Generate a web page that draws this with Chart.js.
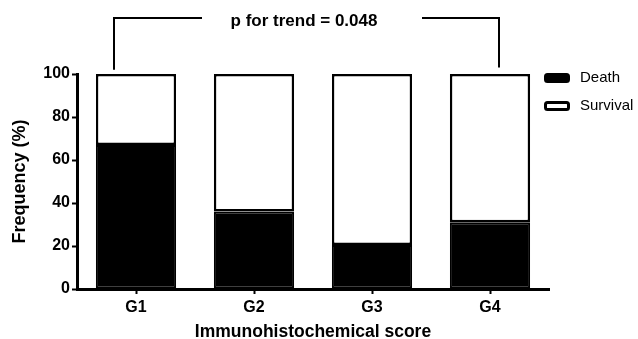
<!DOCTYPE html>
<html>
<head>
<meta charset="utf-8">
<script src="https://cdn.jsdelivr.net/npm/chart.js@4"></script>
<style>
    body { margin: 0; background: #fff; }
    canvas { display: block; }
</style>
</head>
<body>
<canvas id="chart" width="638" height="339"></canvas>
<script>
const groups = ['G1', 'G2', 'G3', 'G4'];
const deathPct = [67, 36, 20.5, 31];
const survivalPct = [33, 64, 79.5, 69];
const yTicks = [0, 20, 40, 60, 80, 100];
const trendText = 'p for trend = 0.048';

const FONT = '"Liberation Sans", Arial, sans-serif';

// bracket with p value above the bars
const trendBracket = {
    id: 'trendBracket',
    afterDraw(chart) {
        const ctx = chart.ctx;
        const x = chart.scales.x;
        const y = chart.scales.y;
        const left = x.getPixelForValue(0) - 22;
        const right = x.getPixelForValue(3) + 9;
        const top = y.getPixelForValue(126);
        const mid = (x.getPixelForValue(1) + x.getPixelForValue(2)) / 2;
        ctx.save();
        ctx.strokeStyle = '#000';
        ctx.lineWidth = 2;
        ctx.beginPath();
        ctx.moveTo(left, y.getPixelForValue(102));
        ctx.lineTo(left, top);
        ctx.lineTo(left + 88, top);
        ctx.moveTo(right - 77, top);
        ctx.lineTo(right, top);
        ctx.lineTo(right, y.getPixelForValue(103));
        ctx.stroke();
        ctx.fillStyle = '#000';
        ctx.font = 'bold 17px ' + FONT;
        ctx.textAlign = 'center';
        ctx.textBaseline = 'middle';
        ctx.fillText(trendText, mid - 9, top + 3);
        ctx.restore();
    }
};

// legend at the right, drawn from the datasets
const sideLegend = {
    id: 'sideLegend',
    afterDraw(chart) {
        const ctx = chart.ctx;
        const area = chart.chartArea;
        ctx.save();
        chart.data.datasets.forEach((ds, i) => {
            const bx = area.right - 5;
            const by = area.top - 1 + i * 28;
            ctx.beginPath();
            ctx.roundRect(bx + 1.5, by + 1.5, 23, 7, 2);
            ctx.fillStyle = ds.backgroundColor;
            ctx.fill();
            ctx.lineWidth = 3;
            ctx.strokeStyle = '#000';
            ctx.stroke();
            ctx.fillStyle = '#000';
            ctx.font = '15px ' + FONT;
            ctx.textAlign = 'left';
            ctx.textBaseline = 'middle';
            ctx.fillText(ds.label, bx + 36, by + 5);
        });
        ctx.restore();
    }
};

new Chart(document.getElementById('chart'), {
    type: 'bar',
    data: {
        labels: groups,
        datasets: [{
            label: 'Death',
            data: deathPct,
            backgroundColor: '#000',
            borderColor: '#000',
            borderWidth: 2,
            borderSkipped: false
        }, {
            label: 'Survival',
            data: survivalPct,
            backgroundColor: '#fff',
            borderColor: '#000',
            borderWidth: 2.5,
            borderSkipped: false
        }]
    },
    options: {
        responsive: false,
        animation: false,
        layout: { padding: { left: 0, top: 74, right: 89, bottom: 0 } },
        datasets: { bar: { categoryPercentage: 1, barPercentage: 0.68 } },
        plugins: { legend: { display: false }, tooltip: { enabled: false } },
        scales: {
            x: {
                stacked: true,
                offset: true,
                afterFit: s => { s.height = 50; },
                grid: { offset: false, drawOnChartArea: false, tickLength: 5, tickWidth: 2, tickColor: '#000' },
                border: { display: true, color: '#000', width: 3 },
                ticks: { color: '#000', padding: 4, font: { family: FONT, size: 16, weight: 'bold' } },
                title: {
                    display: true,
                    text: 'Immunohistochemical score',
                    color: '#000',
                    padding: 0,
                    font: { family: FONT, size: 17.5, weight: 'bold', lineHeight: 0.8 }
                }
            },
            y: {
                stacked: true,
                min: 0,
                max: 100,
                afterFit: s => { s.width = 77; },
                afterBuildTicks: s => { s.ticks = yTicks.map(v => ({ value: v })); },
                grid: { drawOnChartArea: false, tickLength: 5, tickWidth: 2, tickColor: '#000' },
                border: { display: true, color: '#000', width: 3 },
                ticks: { color: '#000', padding: 2, font: { family: FONT, size: 16, weight: 'bold' } },
                title: {
                    display: true,
                    text: 'Frequency (%)',
                    color: '#000',
                    padding: { top: 9, bottom: 0 },
                    font: { family: FONT, size: 18, weight: 'bold' }
                }
            }
        }
    },
    plugins: [trendBracket, sideLegend]
});
</script>
</body>
</html>
